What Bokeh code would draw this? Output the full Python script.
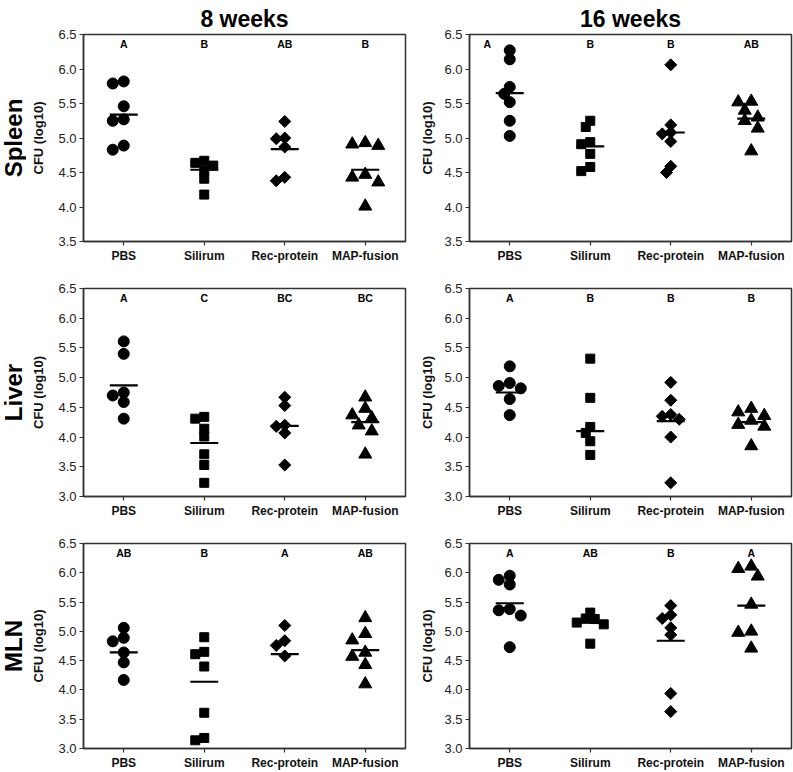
import math
from bokeh.plotting import figure
from bokeh.models import Range1d, FixedTicker, NumeralTickFormatter, Label, Title
from bokeh.layouts import column, row
from bokeh.embed import file_html
from bokeh.resources import INLINE
from bokeh.core.properties import value

# ---------------- data ----------------
groups = ["PBS", "Silirum", "Rec-protein", "MAP-fusion"]
organs = ["Spleen", "Liver", "MLN"]
timepoints = ["8 weeks", "16 weeks"]

spleen_8w = [
    [5.82, 5.79, 5.46, 5.27, 5.25, 4.89, 4.83],
    [4.67, 4.64, 4.60, 4.53, 4.41, 4.18],
    [5.24, 5.00, 4.99, 4.87, 4.43, 4.38],
    [4.93, 4.91, 4.89, 4.47, 4.43, 4.36, 4.01],
]
spleen_8w_means = [5.34, 4.54, 4.84, 4.54]
spleen_8w_letters = ["A", "B", "AB", "B"]

spleen_16w = [
    [6.27, 6.14, 5.74, 5.64, 5.52, 5.25, 5.03],
    [5.25, 5.16, 4.94, 4.91, 4.77, 4.58, 4.52],
    [6.06, 5.19, 5.08, 5.06, 4.95, 4.59, 4.50],
    [5.53, 5.52, 5.40, 5.30, 5.25, 5.14, 4.81],
]
spleen_16w_means = [5.65, 4.88, 5.08, 5.28]
spleen_16w_letters = ["A", "B", "B", "AB"]

liver_8w = [
    [5.61, 5.40, 4.75, 4.70, 4.59, 4.31],
    [4.34, 4.31, 4.14, 4.01, 3.71, 3.53, 3.23],
    [4.67, 4.53, 4.20, 4.18, 4.07, 3.53],
    [4.67, 4.48, 4.37, 4.32, 4.20, 4.10, 3.71],
]
liver_8w_means = [4.87, 3.90, 4.19, 4.25]
liver_8w_letters = ["A", "C", "BC", "BC"]

liver_16w = [
    [5.19, 4.91, 4.86, 4.82, 4.64, 4.37],
    [5.32, 4.66, 4.17, 4.07, 3.93, 3.70],
    [4.92, 4.62, 4.38, 4.35, 4.30, 4.00, 3.23],
    [4.48, 4.42, 4.36, 4.28, 4.21, 4.18, 3.85],
]
liver_16w_means = [4.75, 4.10, 4.27, 4.25]
liver_16w_letters = ["A", "B", "B", "B"]

mln_8w = [
    [5.06, 4.89, 4.83, 4.64, 4.47, 4.17],
    [4.90, 4.65, 4.61, 4.40, 3.61, 3.18, 3.14],
    [5.10, 4.84, 4.76, 4.58],
    [5.23, 4.96, 4.85, 4.64, 4.57, 4.43, 4.10],
]
mln_8w_means = [4.64, 4.14, 4.61, 4.68]
mln_8w_letters = ["AB", "B", "A", "AB"]

mln_16w = [
    [5.95, 5.88, 5.80, 5.38, 5.36, 5.27, 4.73],
    [5.32, 5.22, 5.21, 5.15, 5.12, 4.79],
    [5.44, 5.28, 5.22, 5.06, 4.94, 3.94, 3.63],
    [6.11, 6.07, 5.94, 5.46, 5.00, 4.98, 4.71],
]
mln_16w_means = [5.48, 5.15, 4.84, 5.44]
mln_16w_letters = ["A", "AB", "B", "A"]

spleen_ticks = [3.5, 4.0, 4.5, 5.0, 5.5, 6.0, 6.5]
other_ticks = [3.0, 3.5, 4.0, 4.5, 5.0, 5.5, 6.0, 6.5]

panels = [
    [(spleen_8w, spleen_8w_means, spleen_8w_letters), (spleen_16w, spleen_16w_means, spleen_16w_letters)],
    [(liver_8w, liver_8w_means, liver_8w_letters), (liver_16w, liver_16w_means, liver_16w_letters)],
    [(mln_8w, mln_8w_means, mln_8w_letters), (mln_16w, mln_16w_means, mln_16w_letters)],
]
row_ticks = [spleen_ticks, other_ticks, other_ticks]

# ---------------- style / layout ----------------
FONT = "Liberation Sans"
FRAME_W = 322
ROW_TOP = [33, 23, 23]
ROW_FRAME = [209, 209, 208]
ROW_BOTTOM = [23, 23, 21]
LABEL_W = 26
BORDERS = [(57, 3), (61, 2)]        # (left, right) border of each column
AXIS_LABEL_STANDOFF = [9, 6]
AXIS_COLOR = "#333333"

markers = ["circle", "square", "square", "triangle"]
marker_sizes = [11, 9, 8.5, 13]
marker_angles = [0, 0, math.pi / 4, 0]
centers = [0.5 + i for i in range(len(groups))]


def swarm_offsets(vals, d_px, ppu_x, ppu_y):
    """Simple beeswarm: spread overlapping points horizontally."""
    order = sorted(range(len(vals)), key=lambda i: -vals[i])
    placed = []
    offs = [0.0] * len(vals)
    h = 0.5 * d_px
    mind = 0.8 * d_px
    cands = [0.0]
    for m in range(1, 10):
        cands += [-m * h, m * h]
    for i in order:
        y = vals[i] * ppu_y
        chosen = cands[-1]
        for c in cands:
            if all((c - px) ** 2 + (y - py) ** 2 >= mind ** 2 for px, py in placed):
                chosen = c
                break
        placed.append((chosen, y))
        offs[i] = chosen / ppu_x
    return offs


def make_panel(r, c, data, means, letters, ticks):
    ymin, ymax = ticks[0], ticks[-1]
    bl, br = BORDERS[c]
    h = ROW_TOP[r] + ROW_FRAME[r] + ROW_BOTTOM[r]
    p = figure(width=bl + FRAME_W + br, height=h,
               x_range=Range1d(0, len(groups)), y_range=Range1d(ymin, ymax),
               output_backend="svg", toolbar_location=None,
               min_border_left=bl, min_border_right=br,
               min_border_top=ROW_TOP[r], min_border_bottom=ROW_BOTTOM[r])
    p.grid.visible = False
    p.outline_line_color = AXIS_COLOR
    p.outline_line_width = 1.5
    p.background_fill_color = "white"
    p.border_fill_color = "white"

    ppu_x = FRAME_W / len(groups)
    ppu_y = ROW_FRAME[r] / (ymax - ymin)
    letter_x = []
    for g in range(len(groups)):
        vals = data[g]
        offs = swarm_offsets(vals, marker_sizes[g], ppu_x, ppu_y)
        xs = [centers[g] + o for o in offs]
        p.scatter(xs, vals, marker=markers[g], size=marker_sizes[g],
                  angle=marker_angles[g], fill_color="black", line_color="black")
        # move the letter aside when a point would sit underneath it
        clash = (ymax - max(vals)) * ppu_y < 20
        letter_x.append(centers[g] - (0.28 if clash else 0.0))
    p.scatter(centers, means, marker="dash", size=28, line_width=2.2, line_color="black")
    p.text(x=letter_x, y=[ymax] * len(groups), text=letters, y_offset=9,
           text_align="center", text_baseline="middle",
           text_font=value(FONT), text_font_size="10.5px", text_font_style="bold",
           text_color="black")

    xa = p.xaxis[0]
    xa.ticker = FixedTicker(ticks=centers)
    xa.major_label_overrides = {c_: g_ for c_, g_ in zip(centers, groups)}
    xa.major_label_text_font = FONT
    xa.major_label_text_font_size = "12px"
    xa.major_label_text_font_style = "bold"
    xa.major_label_text_color = "#111111"
    xa.major_label_standoff = 3
    xa.minor_tick_line_color = None
    xa.major_tick_in = 0
    xa.major_tick_out = 4
    xa.axis_line_color = AXIS_COLOR
    xa.axis_line_width = 1.5
    xa.major_tick_line_color = AXIS_COLOR
    xa.major_tick_line_width = 1.2

    ya = p.yaxis[0]
    ya.ticker = FixedTicker(ticks=ticks)
    ya.formatter = NumeralTickFormatter(format="0.0")
    ya.major_label_text_font = FONT
    ya.major_label_text_font_size = "13px"
    ya.major_label_text_color = "#222222"
    ya.major_label_standoff = 3
    ya.minor_tick_line_color = None
    ya.major_tick_in = 0
    ya.major_tick_out = 4
    ya.axis_line_color = AXIS_COLOR
    ya.axis_line_width = 1.5
    ya.major_tick_line_color = AXIS_COLOR
    ya.major_tick_line_width = 1.2
    ya.axis_label = "CFU (log10)"
    ya.axis_label_text_font = FONT
    ya.axis_label_text_font_size = "13px"
    ya.axis_label_text_font_style = "bold"
    ya.axis_label_text_color = "#111111"
    ya.axis_label_standoff = AXIS_LABEL_STANDOFF[c]

    if r == 0:
        t = Title(text=timepoints[c], align="center", text_font=FONT,
                  text_font_size="23px", text_font_style="bold",
                  text_color="black", standoff=6, offset=0)
        p.add_layout(t, "above")
    return p


def make_row_label(r):
    h = ROW_TOP[r] + ROW_FRAME[r] + ROW_BOTTOM[r]
    p = figure(width=LABEL_W, height=h, x_range=Range1d(0, 1), y_range=Range1d(0, 1),
               output_backend="svg", toolbar_location=None,
               x_axis_type=None, y_axis_type=None,
               min_border_left=0, min_border_right=0,
               min_border_top=ROW_TOP[r], min_border_bottom=ROW_BOTTOM[r])
    p.grid.visible = False
    p.outline_line_color = None
    p.add_layout(Label(x=0.5, y=0.5, text=organs[r], angle=math.pi / 2,
                       text_align="center", text_baseline="middle",
                       text_font=FONT, text_font_size="24px", text_font_style="bold",
                       text_color="black"))
    return p


rows = []
for r in range(3):
    figs = [make_row_label(r)]
    for c in range(2):
        d, m, l = panels[r][c]
        figs.append(make_panel(r, c, d, m, l, row_ticks[r]))
    rows.append(row(*figs))

layout = column(*rows)
open("out.html", "w").write(file_html(layout, INLINE))
